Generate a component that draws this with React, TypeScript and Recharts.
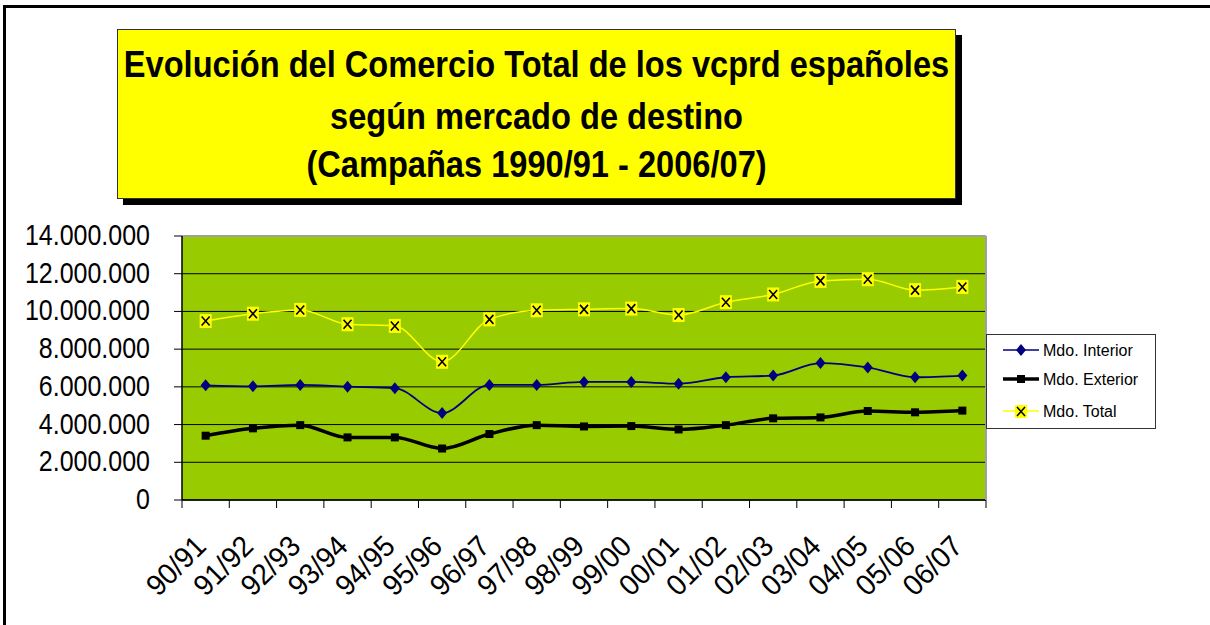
import React from 'react';
import { LineChart, Line, XAxis, YAxis, CartesianGrid, Legend, ReferenceLine } from 'recharts';

const campaigns = ['90/91', '91/92', '92/93', '93/94', '94/95', '95/96', '96/97', '97/98', '98/99', '99/00', '00/01', '01/02', '02/03', '03/04', '04/05', '05/06', '06/07'];
const interior = [6080000, 6030000, 6100000, 6010000, 5930000, 4610000, 6100000, 6100000, 6260000, 6260000, 6170000, 6510000, 6600000, 7260000, 7030000, 6510000, 6600000];
const exterior = [3410000, 3800000, 3970000, 3320000, 3320000, 2730000, 3500000, 3970000, 3900000, 3920000, 3740000, 3970000, 4330000, 4380000, 4720000, 4650000, 4740000];
const total = [9490000, 9880000, 10080000, 9320000, 9230000, 7330000, 9580000, 10060000, 10110000, 10150000, 9810000, 10490000, 10900000, 11620000, 11710000, 11130000, 11300000];
const yTicks = [0, 2000000, 4000000, 6000000, 8000000, 10000000, 12000000, 14000000];
const titleLines = ['Evolución del Comercio Total de los vcprd españoles', 'según mercado de destino', '(Campañas 1990/91 - 2006/07)'];
const seriesNames = ['Mdo. Interior', 'Mdo. Exterior', 'Mdo. Total'];

const data = campaigns.map((c, i) => ({ campaign: c, interior: interior[i], exterior: exterior[i], total: total[i] }));

const FONT = '"Liberation Sans", Arial, sans-serif';

const fmt = (v: number) => String(v).replace(/\B(?=(\d{3})+(?!\d))/g, '.');

const Diamond = (props: any) => {
  const { cx, cy, index } = props;
  if (cx == null || cy == null) return <g key={`di-${index}`} />;
  return <path key={`di-${index}`} d={`M${cx},${cy - 6}L${cx + 5},${cy}L${cx},${cy + 6}L${cx - 5},${cy}Z`} fill="#000080" />;
};
const Square = (props: any) => {
  const { cx, cy, index } = props;
  if (cx == null || cy == null) return <g key={`sq-${index}`} />;
  return <rect key={`sq-${index}`} x={cx - 4} y={cy - 4} width={8} height={8} fill="#000" />;
};
const CrossBox = (props: any) => {
  const { cx, cy, index } = props;
  if (cx == null || cy == null) return <g key={`cb-${index}`} />;
  return (
    <g key={`cb-${index}`}>
      <rect x={cx - 6} y={cy - 7} width={12} height={14} fill="#FFFF00" />
      <path d={`M${cx - 4},${cy - 4.5}L${cx + 4},${cy + 4.5}M${cx + 4},${cy - 4.5}L${cx - 4},${cy + 4.5}`} stroke="#000" strokeWidth={1.6} />
    </g>
  );
};

const XTick = (props: any) => {
  const { x, y, payload, index, width, visibleTicksCount } = props;
  const half = width / visibleTicksCount / 2;
  const top = y - 8;
  const ax = x + 2;
  const ay = top + 48;
  return (
    <g>
      <line x1={x - half} y1={top} x2={x - half} y2={top + 8} stroke="#000" strokeWidth={1} />
      {index === visibleTicksCount - 1 && (
        <line x1={x + half} y1={top} x2={x + half} y2={top + 8} stroke="#000" strokeWidth={1} />
      )}
      <text transform={`translate(${ax} ${ay}) rotate(-45) scale(1 1.05)`} x={0} y={0} textAnchor="end" fontFamily={FONT} fontSize={28} fill="#000">
        {payload.value}
      </text>
    </g>
  );
};

const YTick = (props: any) => {
  const { x, y, payload } = props;
  return (
    <text transform={`translate(${x} ${y}) scale(1 1.2)`} x={0} y={7.5} textAnchor="end" fontFamily={FONT} fontSize={25} fill="#000">
      {fmt(payload.value)}
    </text>
  );
};

const LegendBox = () => (
  <div style={{ width: 168, height: 93, border: '1px solid #333', background: '#fff', position: 'relative', fontFamily: FONT }}>
    <svg width={168} height={93} style={{ position: 'absolute', left: 0, top: 0 }}>
      <line x1={16} y1={15} x2={52} y2={15} stroke="#000080" strokeWidth={1.5} />
      <path d="M34,9L39,15L34,21L29,15Z" fill="#000080" />
      <text x={56} y={21} fontSize={16} fontFamily={FONT} fill="#000">{seriesNames[0]}</text>
      <line x1={16} y1={44} x2={52} y2={44} stroke="#000" strokeWidth={3.5} />
      <rect x={30} y={40} width={8} height={8} fill="#000" />
      <text x={56} y={50} fontSize={16} fontFamily={FONT} fill="#000">{seriesNames[1]}</text>
      <line x1={16} y1={76} x2={52} y2={76} stroke="#FFFF00" strokeWidth={1.5} />
      <rect x={28} y={70} width={12} height={13} fill="#FFFF00" />
      <path d="M30,72L38,81M38,72L30,81" stroke="#000" strokeWidth={1.5} />
      <text x={56} y={82} fontSize={16} fontFamily={FONT} fill="#000">{seriesNames[2]}</text>
    </svg>
  </div>
);

const titleBaselines = [77, 129, 177];

export default function App() {
  return (
    <div style={{ position: 'absolute', left: 0, top: 0, width: 1210, height: 625, overflow: 'hidden', background: '#fff' }}>
      <div style={{ position: 'absolute', left: 3, top: 5, width: 1400, height: 800, borderLeft: '3px solid #000', borderTop: '3px solid #000' }} />
      <div style={{ position: 'absolute', left: 0, top: 0 }}>
        <LineChart width={1210} height={625} data={data} margin={{ top: 236, right: 223, bottom: 0, left: 0 }}>
          <CartesianGrid vertical={false} stroke="#000" strokeWidth={1} fill="#99CC00" fillOpacity={1} horizontalValues={yTicks} />
          <XAxis
            dataKey="campaign"
            interval={0}
            tickLine={false}
            axisLine={{ stroke: '#000', strokeWidth: 1.5 }}
            tick={<XTick />}
            height={125}
            padding={{ left: 23.65, right: 23.65 }}
          />
          <YAxis
            domain={[0, 14000000]}
            ticks={yTicks}
            interval={0}
            width={182}
            tickSize={8}
            tickMargin={24}
            axisLine={{ stroke: '#000', strokeWidth: 1.5 }}
            tickLine={{ stroke: '#000' }}
            tick={<YTick />}
          />
          <YAxis
            yAxisId="r"
            orientation="right"
            width={1}
            domain={[0, 14000000]}
            tick={false}
            tickLine={false}
            axisLine={{ stroke: '#a0a0a0', strokeWidth: 2 }}
          />
          <ReferenceLine y={14000000} stroke="#a0a0a0" strokeWidth={2} />
          <Line type="monotone" dataKey="total" name={seriesNames[2]} stroke="#FFFF00" strokeWidth={1.5} dot={<CrossBox />} activeDot={false} isAnimationActive={false} />
          <Line type="monotone" dataKey="interior" name={seriesNames[0]} stroke="#000080" strokeWidth={1.8} dot={<Diamond />} activeDot={false} isAnimationActive={false} />
          <Line type="monotone" dataKey="exterior" name={seriesNames[1]} stroke="#000" strokeWidth={3.5} dot={<Square />} activeDot={false} isAnimationActive={false} />
          <Legend layout="vertical" align="center" verticalAlign="middle" content={<LegendBox />} wrapperStyle={{ position: 'absolute', left: 986, top: 334, width: 170, height: 95 }} />
        </LineChart>
      </div>
      <svg width={1210} height={625} style={{ position: 'absolute', left: 0, top: 0, pointerEvents: 'none' }}>
        <rect x={123} y={35} width={839} height={170} fill="#000" />
        <rect x={117.5} y={29.5} width={838} height={169} fill="#FFFF00" stroke="#333" strokeWidth={1} />
        {titleLines.map((t, i) => (
          <text key={t} transform={`translate(536.5 ${titleBaselines[i]}) scale(1 1.15)`} x={0} y={0} textAnchor="middle" fontFamily={FONT} fontWeight="bold" fontSize={32.6} fill="#000">
            {t}
          </text>
        ))}
      </svg>
    </div>
  );
}
